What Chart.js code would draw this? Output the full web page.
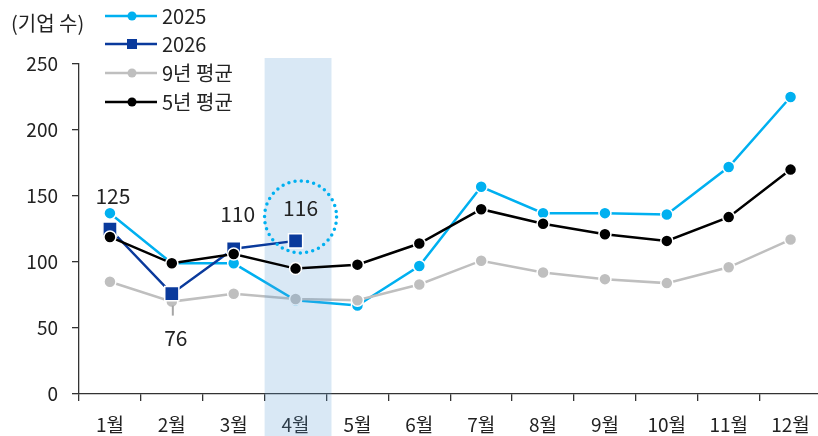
<!DOCTYPE html>
<html>
<head>
<meta charset="utf-8">
<script src="https://cdn.jsdelivr.net/npm/chart.js@4"></script>
<style>
  html, body { margin: 0; padding: 0; background: #fff; overflow: hidden; }
</style>
</head>
<body>
<canvas id="chart" width="833" height="436"></canvas>
<script>
var months = ['1월', '2월', '3월', '4월', '5월', '6월', '7월', '8월', '9월', '10월', '11월', '12월'];
var y2025 = [137, 99, 99, 71, 67, 97, 157, 137, 137, 136, 172, 225];
var y2026 = [125, 76, 110, 116, null, null, null, null, null, null, null, null];
var avg9 = [85, 70, 76, 72, 71, 83, 101, 92, 87, 84, 96, 117];
var avg5 = [119, 99, 106, 95, 98, 114, 140, 129, 121, 116, 134, 170];
var yTicks = [0, 50, 100, 150, 200, 250];
var seriesNames = ['2025', '2026', '9년 평균', '5년 평균'];
var seriesColors = ['#00B0F0', '#0A3A9C', '#BFBFBF', '#000000'];

var FONT = '"Noto Sans CJK KR", "Noto Sans", sans-serif';
var TEXT = '#222222';

var decor = {
  id: 'decor',
  // translucent band over 4월, drawn after the 9년 평균 series
  afterDatasetDraw: function (chart, args) {
    if (args.index !== 2) return;
    var c = chart.ctx, x = chart.scales.x;
    var step = x.getPixelForValue(1) - x.getPixelForValue(0);
    var left = x.getPixelForValue(3) - step / 2;
    c.save();
    c.fillStyle = 'rgba(91, 155, 213, 0.23)';
    c.fillRect(left, 58, step + 5, chart.height - 58);
    c.restore();
  },
  afterDatasetsDraw: function (chart) {
    var c = chart.ctx, x = chart.scales.x, y = chart.scales.y;
    c.save();
    // leader line for 76
    c.strokeStyle = '#A6A6A6';
    c.lineWidth = 2;
    c.beginPath();
    c.moveTo(x.getPixelForValue(1) + 1, y.getPixelForValue(avg9[1]) + 4);
    c.lineTo(x.getPixelForValue(1) + 1, y.getPixelForValue(avg9[1]) + 14);
    c.stroke();

    // labels for 2026
    c.fillStyle = TEXT;
    c.font = '21px ' + FONT;
    c.textAlign = 'center';
    c.textBaseline = 'middle';
    c.fillText(String(y2026[0]), x.getPixelForValue(0) + 3, y.getPixelForValue(y2026[0]) - 33);
    c.fillText(String(y2026[1]), x.getPixelForValue(1) + 4, y.getPixelForValue(y2026[1]) + 44);
    c.fillText(String(y2026[2]), x.getPixelForValue(2) + 4, y.getPixelForValue(y2026[2]) - 35);
    var cx = x.getPixelForValue(3) + 5, cy = y.getPixelForValue(y2026[3]) - 24;
    c.fillText(String(y2026[3]), cx, cy - 9);

    // dotted circle
    c.strokeStyle = '#00B0F0';
    c.lineWidth = 3.5;
    c.lineCap = 'round';
    c.setLineDash([0, 6.3]);
    c.beginPath();
    c.arc(cx, cy, 36, 0, Math.PI * 2);
    c.stroke();
    c.setLineDash([]);

    // legend
    c.textAlign = 'left';
    c.font = '20px ' + FONT;
    c.fillText('(기업 수)', 11, 23);
    var rows = [16, 44, 73, 102];
    for (var i = 0; i < 4; i++) {
      c.strokeStyle = seriesColors[i];
      c.lineWidth = 2.5;
      c.lineCap = 'butt';
      c.beginPath();
      c.moveTo(105, rows[i]);
      c.lineTo(157, rows[i]);
      c.stroke();
      c.fillStyle = seriesColors[i];
      if (i === 1) {
        c.fillRect(127, rows[i] - 5, 10, 10);
      } else {
        c.beginPath();
        c.arc(132, rows[i], 4.5, 0, Math.PI * 2);
        c.fill();
      }
      c.fillStyle = TEXT;
      c.fillText(seriesNames[i], 162, rows[i]);
    }
    c.restore();
  }
};

function lineSet(label, data, color, order, style, radius) {
  return {
    label: label,
    data: data,
    borderColor: color,
    backgroundColor: color,
    borderWidth: 2.5,
    pointStyle: style,
    pointRadius: radius,
    pointBorderColor: '#FFFFFF',
    pointBorderWidth: 1.5,
    spanGaps: false,
    tension: 0,
    order: order
  };
}

new Chart(document.getElementById('chart'), {
  type: 'line',
  data: {
    labels: months,
    datasets: [
      lineSet(seriesNames[0], y2025, seriesColors[0], 3, 'circle', 6),
      lineSet(seriesNames[1], y2026, seriesColors[1], 1, 'rect', 10),
      lineSet(seriesNames[2], avg9, seriesColors[2], 2, 'circle', 6),
      lineSet(seriesNames[3], avg5, seriesColors[3], 0, 'circle', 6)
    ]
  },
  options: {
    responsive: false,
    animation: false,
    layout: { padding: { top: 64, left: 0, right: 0, bottom: 0 } },
    plugins: { legend: { display: false }, tooltip: { enabled: false } },
    scales: {
      x: {
        offset: true,
        afterFit: function (axis) { axis.height = 42; },
        grid: { offset: true, drawOnChartArea: false, drawTicks: true, tickLength: 7, color: '#333', lineWidth: 1.3 },
        border: { color: '#333', width: 1.3 },
        ticks: { color: TEXT, font: { family: FONT, size: 19 }, padding: 12, maxRotation: 0 }
      },
      y: {
        min: 0,
        max: 250,
        afterBuildTicks: function (axis) {
          axis.ticks = yTicks.map(function (v) { return { value: v }; });
        },
        afterFit: function (axis) { axis.width = 79; },
        grid: { drawOnChartArea: false, drawTicks: true, tickLength: 7, color: '#333', lineWidth: 1.3 },
        border: { color: '#333', width: 1.3 },
        ticks: { color: TEXT, font: { family: FONT, size: 19 }, padding: 14 }
      }
    }
  },
  plugins: [decor]
});
</script>
</body>
</html>
